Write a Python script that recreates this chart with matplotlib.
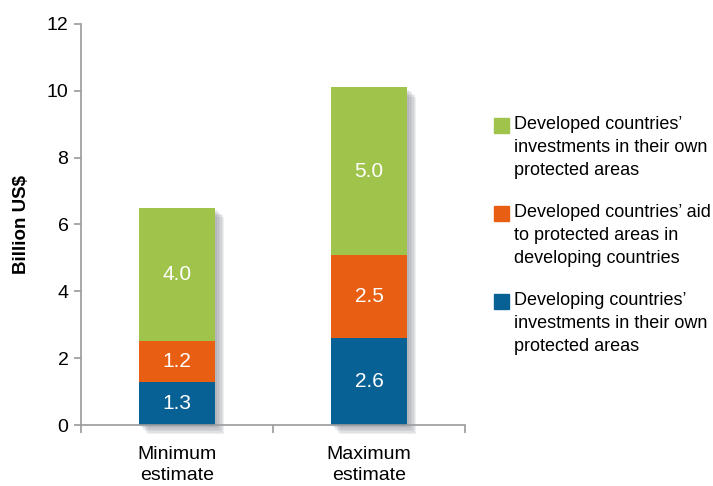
import matplotlib
matplotlib.use("Agg")
import matplotlib.pyplot as plt
import matplotlib.patheffects as pe
from matplotlib.patches import Rectangle
import numpy as np

categories = ["Minimum\nestimate", "Maximum\nestimate"]
developing_own = [1.3, 2.6]
developed_aid = [1.2, 2.5]
developed_own = [4.0, 5.0]
series_labels = [
    "Developed countries’\ninvestments in their own\nprotected areas",
    "Developed countries’ aid\nto protected areas in\ndeveloping countries",
    "Developing countries’\ninvestments in their own\nprotected areas",
]
yticks = [0, 2, 4, 6, 8, 10, 12]

GREEN = "#9fc34b"
ORANGE = "#e85e12"
BLUE = "#086194"
AXIS = "#9a9a9a"

plt.rcParams["font.family"] = ["Liberation Sans", "DejaVu Sans"]

fig = plt.figure(figsize=(7.13, 4.86), dpi=100)
ax = fig.add_axes([81 / 713, 61 / 486, (465 - 81) / 713, (425 - 24) / 486])

x = np.arange(len(categories))
w = 0.40
totals = np.array(developing_own) + np.array(developed_aid) + np.array(developed_own)

# soft drop shadow behind the whole stack
shadow_fx = [pe.SimplePatchShadow(offset=(o, -o), shadow_rgbFace="#7d8490", alpha=0.13)
             for o in (1.5, 2.5, 3.5, 4.5, 5.5, 6.5)]
back = ax.bar(x, totals, w, color="white", edgecolor="none", zorder=1)
for b in back:
    b.set_path_effects(shadow_fx + [pe.Normal()])
    b.set_clip_on(False)

b1 = ax.bar(x, developing_own, w, color=BLUE, zorder=2)
b2 = ax.bar(x, developed_aid, w, bottom=developing_own, color=ORANGE, zorder=2)
bottom3 = np.array(developing_own) + np.array(developed_aid)
b3 = ax.bar(x, developed_own, w, bottom=bottom3, color=GREEN, zorder=2)
for bars in (b1, b2, b3):
    ax.bar_label(bars, fmt="%.1f", label_type="center", color="white", fontsize=15)

ax.set_xlim(-0.5, 1.5)
ax.set_ylim(0, 12)
ax.set_yticks(yticks)
ax.set_xticks([-0.5, 0.5, 1.5])
ax.set_xticklabels([])
for xi, cat in zip(x, categories):
    ax.text(xi, -0.62, cat, ha="center", va="top", fontsize=14, linespacing=1.35)

for s in ("top", "right"):
    ax.spines[s].set_visible(False)
for s in ("left", "bottom"):
    ax.spines[s].set_color(AXIS)
    ax.spines[s].set_linewidth(1.2)
ax.tick_params(axis="y", colors=AXIS, labelcolor="black", labelsize=14, length=5, width=1.2, pad=4)
ax.tick_params(axis="x", colors=AXIS, length=6, width=1.2, direction="out")
ax.set_ylabel("Billion US$", fontsize=13.5, fontweight="bold", labelpad=12)

# legend drawn by hand so the swatch sits on the first line
colors = [GREEN, ORANGE, BLUE]
tops = [118, 206, 294]
for col, lab, t in zip(colors, series_labels, tops):
    fig.patches.append(Rectangle((494 / 713, 1 - (t + 15) / 486), 15 / 713, 15 / 486,
                                 transform=fig.transFigure, color=col))
    fig.text(514 / 713, 1 - (t - 2) / 486, lab, ha="left", va="top",
             fontsize=13, linespacing=1.45)

fig.savefig("out.png", dpi=100)
